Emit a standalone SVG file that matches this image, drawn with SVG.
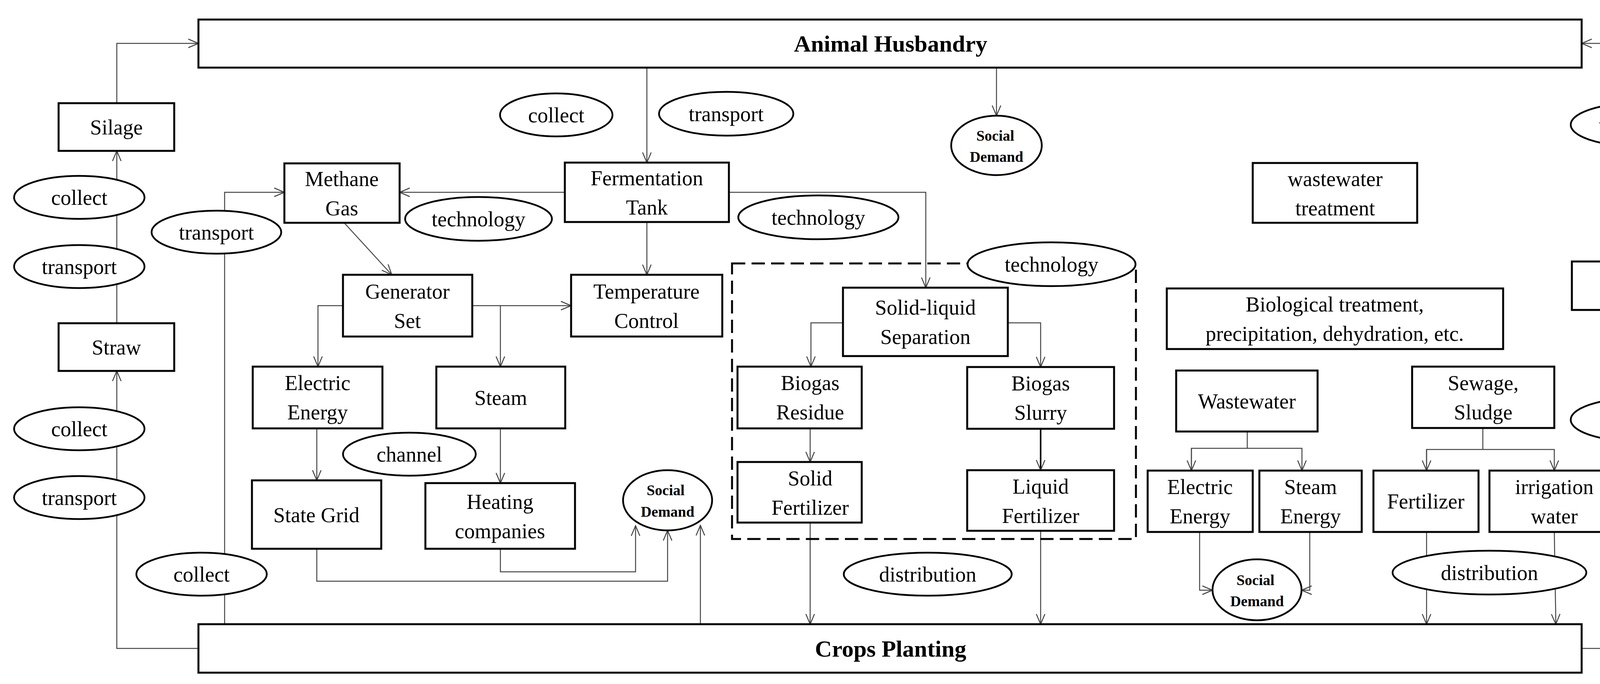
<svg xmlns="http://www.w3.org/2000/svg" width="4390" height="1750" viewBox="0 0 4390 1750">
<style>
.b{fill:#fff;stroke:#000;stroke-width:5}
.e{fill:#fff;stroke:#000;stroke-width:4.5}
.t{font-family:"Liberation Serif","Times New Roman",serif;font-size:54px;text-anchor:middle;fill:#000}
.bt{font-family:"Liberation Serif","Times New Roman",serif;font-size:60px;font-weight:bold;text-anchor:middle;fill:#000}
.st{font-family:"Liberation Serif","Times New Roman",serif;font-size:38px;font-weight:bold;text-anchor:middle;fill:#000}
.c{fill:none;stroke:#444;stroke-width:2.5}
.c2{fill:none;stroke:#000;stroke-width:4}
</style>
<defs>
<marker id="a" viewBox="0 0 30 30" refX="28" refY="15" markerWidth="30" markerHeight="30" markerUnits="userSpaceOnUse" orient="auto"><path d="M2,4 L28,15 L2,26" fill="none" stroke="#444" stroke-width="2.5"/></marker>
</defs>
<rect width="4390" height="1750" fill="#fff"/>
<g id="connectors">
<polyline class="c" points="508,1659 299,1659 299,949" marker-end="url(#a)"/>
<polyline class="c" points="299,827 299,386" marker-end="url(#a)"/>
<polyline class="c" points="299,264 299,111 508,111" marker-end="url(#a)"/>
<polyline class="c" points="575,1597 575,492 728,492" marker-end="url(#a)"/>
<polyline class="c" points="1656,173 1656,416" marker-end="url(#a)"/>
<polyline class="c" points="1446,492 1023,492" marker-end="url(#a)"/>
<polyline class="c" points="1866,492 2370,492 2370,736" marker-end="url(#a)"/>
<polyline class="c" points="881,570 1003,703" marker-end="url(#a)"/>
<polyline class="c" points="1656,568 1656,703" marker-end="url(#a)"/>
<polyline class="c" points="1209,782 1462,782" marker-end="url(#a)"/>
<polyline class="c" points="878,782 814,782 814,938" marker-end="url(#a)"/>
<polyline class="c" points="1281,782 1281,938" marker-end="url(#a)"/>
<polyline class="c" points="811,1096 811,1229" marker-end="url(#a)"/>
<polyline class="c" points="1281,1096 1281,1236" marker-end="url(#a)"/>
<polyline class="c" points="1281,1404 1281,1463 1627,1463 1627,1345" marker-end="url(#a)"/>
<polyline class="c" points="811,1404 811,1487 1709,1487 1709,1357" marker-end="url(#a)"/>
<polyline class="c" points="1793,1597 1793,1344" marker-end="url(#a)"/>
<polyline class="c" points="2158,826 2076,826 2076,938" marker-end="url(#a)"/>
<polyline class="c" points="2580,826 2664,826 2664,939" marker-end="url(#a)"/>
<polyline class="c" points="2074,1096 2074,1182" marker-end="url(#a)"/>
<polyline class="c2" points="2664,1097 2664,1203" marker-end="url(#a)"/>
<polyline class="c" points="2074,1337 2074,1597" marker-end="url(#a)"/>
<polyline class="c" points="2664,1358 2664,1597" marker-end="url(#a)"/>
<polyline class="c" points="2551,173 2551,296" marker-end="url(#a)"/>
<polyline class="c" points="4049,1659 4170,1659 4170,793" marker-end="url(#a)"/>
<polyline class="c" points="4170,669 4170,111 4049,111" marker-end="url(#a)"/>
<polyline class="c" points="3193,1104 3193,1147"/>
<polyline class="c" points="3050,1204 3050,1147 3333,1147 3333,1204" marker-end="url(#a)"/>
<polyline class="c" points="3050,1147 3050,1204" marker-end="url(#a)"/>
<polyline class="c" points="3796,1095 3796,1150"/>
<polyline class="c" points="3652,1204 3652,1150 3979,1150 3979,1204" marker-end="url(#a)"/>
<polyline class="c" points="3652,1150 3652,1204" marker-end="url(#a)"/>
<polyline class="c" points="3071,1361 3071,1510 3104,1510" marker-end="url(#a)"/>
<polyline class="c" points="3353,1361 3353,1510 3332,1510" marker-end="url(#a)"/>
<polyline class="c" points="3652,1361 3652,1597" marker-end="url(#a)"/>
<polyline class="c" points="3979,1361 3983,1597" marker-end="url(#a)"/>
</g>
<rect x="1874" y="674" width="1034" height="705" fill="none" stroke="#000" stroke-width="5" stroke-dasharray="34,16"/>
<g id="animal"><rect class="b" x="508" y="50" width="3541" height="123"/><text class="bt" x="2280" y="132">Animal Husbandry</text></g>
<g id="crops"><rect class="b" x="508" y="1597" width="3541" height="124"/><text class="bt" x="2280" y="1680">Crops Planting</text></g>
<g id="silage"><rect class="b" x="150" y="264" width="296" height="122"/><text class="t" x="298" y="344">Silage</text></g>
<g id="straw"><rect class="b" x="150" y="827" width="296" height="122"/><text class="t" x="298" y="907">Straw</text></g>
<g id="e-collect1"><ellipse class="e" cx="203" cy="505" rx="167" ry="55"/><text class="t" x="203" y="524">collect</text></g>
<g id="e-transport1"><ellipse class="e" cx="203" cy="682" rx="167" ry="55"/><text class="t" x="203" y="701">transport</text></g>
<g id="e-collect2"><ellipse class="e" cx="203" cy="1097" rx="167" ry="55"/><text class="t" x="203" y="1116">collect</text></g>
<g id="e-transport2"><ellipse class="e" cx="203" cy="1273" rx="167" ry="55"/><text class="t" x="203" y="1292">transport</text></g>
<g id="e-transport3"><ellipse class="e" cx="554" cy="594" rx="166" ry="55"/><text class="t" x="554" y="613">transport</text></g>
<g id="e-collect3"><ellipse class="e" cx="516" cy="1469" rx="167" ry="55"/><text class="t" x="516" y="1488">collect</text></g>
<g id="e-collect4"><ellipse class="e" cx="1424" cy="294" rx="144" ry="55"/><text class="t" x="1424" y="313">collect</text></g>
<g id="e-transport4"><ellipse class="e" cx="1859" cy="291" rx="172" ry="56"/><text class="t" x="1859" y="310">transport</text></g>
<g id="methane"><rect class="b" x="728" y="418" width="295" height="152"/><text class="t" x="875" y="476">Methane</text><text class="t" x="875" y="551">Gas</text></g>
<g id="ferment"><rect class="b" x="1446" y="416" width="420" height="152"/><text class="t" x="1656" y="474">Fermentation</text><text class="t" x="1656" y="549">Tank</text></g>
<g id="e-tech1"><ellipse class="e" cx="1225" cy="560" rx="188" ry="56"/><text class="t" x="1225" y="579">technology</text></g>
<g id="e-tech2"><ellipse class="e" cx="2095" cy="556" rx="205" ry="56"/><text class="t" x="2095" y="575">technology</text></g>
<g id="generator"><rect class="b" x="878" y="703" width="331" height="158"/><text class="t" x="1043" y="764">Generator</text><text class="t" x="1043" y="839">Set</text></g>
<g id="temp"><rect class="b" x="1462" y="703" width="387" height="158"/><text class="t" x="1655" y="764">Temperature</text><text class="t" x="1655" y="839">Control</text></g>
<g id="elec1"><rect class="b" x="647" y="938" width="332" height="158"/><text class="t" x="813" y="998">Electric</text><text class="t" x="813" y="1073">Energy</text></g>
<g id="steam1"><rect class="b" x="1117" y="938" width="330" height="158"/><text class="t" x="1282" y="1036">Steam</text></g>
<g id="e-channel"><ellipse class="e" cx="1048" cy="1162" rx="170" ry="55"/><text class="t" x="1048" y="1181">channel</text></g>
<g id="stategrid"><rect class="b" x="645" y="1229" width="331" height="175"/><text class="t" x="810" y="1336">State Grid</text></g>
<g id="heating"><rect class="b" x="1089" y="1236" width="383" height="168"/><text class="t" x="1280" y="1302">Heating</text><text class="t" x="1280" y="1377">companies</text></g>
<g id="social1"><ellipse class="e" cx="1709" cy="1280" rx="114" ry="77"/><text class="st" x="1704" y="1267">Social</text><text class="st" x="1709" y="1322">Demand</text></g>
<g id="e-tech3"><ellipse class="e" cx="2692" cy="676" rx="215" ry="56"/><text class="t" x="2692" y="695">technology</text></g>
<g id="sep"><rect class="b" x="2158" y="736" width="422" height="175"/><text class="t" x="2369" y="805">Solid-liquid</text><text class="t" x="2369" y="880">Separation</text></g>
<g id="residue"><rect class="b" x="1888" y="938" width="318" height="158"/><text class="t" x="2074" y="998">Biogas</text><text class="t" x="2074" y="1073">Residue</text></g>
<g id="slurry"><rect class="b" x="2476" y="939" width="376" height="158"/><text class="t" x="2664" y="999">Biogas</text><text class="t" x="2664" y="1074">Slurry</text></g>
<g id="solidfert"><rect class="b" x="1888" y="1182" width="318" height="155"/><text class="t" x="2074" y="1242">Solid</text><text class="t" x="2074" y="1317">Fertilizer</text></g>
<g id="liquidfert"><rect class="b" x="2476" y="1203" width="376" height="155"/><text class="t" x="2664" y="1263">Liquid</text><text class="t" x="2664" y="1338">Fertilizer</text></g>
<g id="e-dist1"><ellipse class="e" cx="2375" cy="1469" rx="215" ry="55"/><text class="t" x="2375" y="1488">distribution</text></g>
<g id="social2"><ellipse class="e" cx="2551" cy="372" rx="116" ry="76"/><text class="st" x="2548" y="360">Social</text><text class="st" x="2551" y="414">Demand</text></g>
<g id="wwt"><rect class="b" x="3207" y="417" width="421" height="153"/><text class="t" x="3418" y="476">wastewater</text><text class="t" x="3418" y="551">treatment</text></g>
<g id="bio"><rect class="b" x="2987" y="738" width="861" height="155"/><text class="t" x="3417" y="797">Biological treatment,</text><text class="t" x="3417" y="872">precipitation, dehydration, etc.</text></g>
<g id="hay"><rect class="b" x="4024" y="669" width="294" height="124"/><text class="t" x="4171" y="750">Hay</text></g>
<g id="e-transport5"><ellipse class="e" cx="4189" cy="319" rx="168" ry="55"/><text class="t" x="4189" y="338">transport</text></g>
<g id="e-collect5"><ellipse class="e" cx="4189" cy="1074" rx="168" ry="55"/><text class="t" x="4189" y="1093">collect</text></g>
<g id="wastewater"><rect class="b" x="3011" y="948" width="362" height="156"/><text class="t" x="3192" y="1045">Wastewater</text></g>
<g id="sewage"><rect class="b" x="3615" y="938" width="364" height="157"/><text class="t" x="3797" y="998">Sewage,</text><text class="t" x="3797" y="1073">Sludge</text></g>
<g id="elec2"><rect class="b" x="2938" y="1204" width="269" height="157"/><text class="t" x="3072" y="1264">Electric</text><text class="t" x="3072" y="1339">Energy</text></g>
<g id="steam2"><rect class="b" x="3224" y="1204" width="262" height="157"/><text class="t" x="3355" y="1264">Steam</text><text class="t" x="3355" y="1339">Energy</text></g>
<g id="fert"><rect class="b" x="3516" y="1204" width="269" height="157"/><text class="t" x="3650" y="1301">Fertilizer</text></g>
<g id="irrig"><rect class="b" x="3813" y="1204" width="331" height="157"/><text class="t" x="3979" y="1264">irrigation</text><text class="t" x="3979" y="1339">water</text></g>
<g id="social3"><ellipse class="e" cx="3218" cy="1509" rx="114" ry="78"/><text class="st" x="3214" y="1497">Social</text><text class="st" x="3218" y="1551">Demand</text></g>
<g id="e-dist2"><ellipse class="e" cx="3813" cy="1465" rx="248" ry="56"/><text class="t" x="3813" y="1484">distribution</text></g>
</svg>
